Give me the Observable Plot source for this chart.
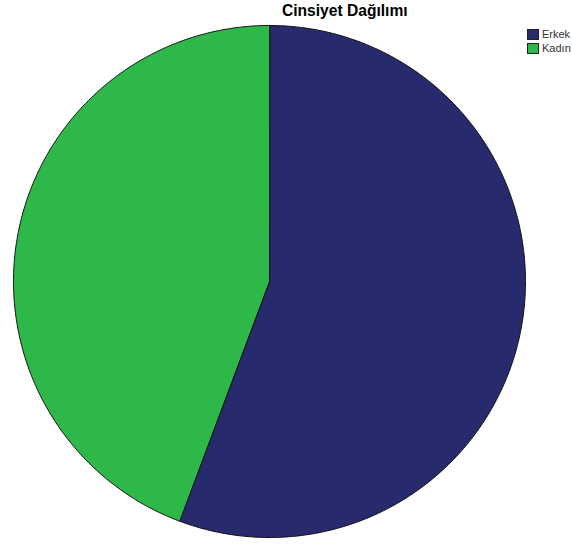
<!DOCTYPE html>
<html>
<head>
<meta charset="utf-8">
<script src="https://cdn.jsdelivr.net/npm/d3@7"></script>
<script src="https://cdn.jsdelivr.net/npm/@observablehq/plot@0.6"></script>
<style>
  body { margin: 0; background: #fff; font-family: "Liberation Sans", Arial, sans-serif; }
  #wrap { position: relative; width: 572px; height: 544px; overflow: hidden; }
  #title { position: absolute; left: 282px; top: 2px; font-size: 15.6px; font-weight: bold; color: #000; white-space: nowrap; }
  #legend { position: absolute; left: 527px; top: 27px; font-size: 11px; color: #333; white-space: nowrap; }
  .item { display: flex; align-items: center; height: 14px; }
  .sw { width: 12px; height: 11px; border: 1px solid #222; box-sizing: border-box; margin-right: 3px; }
</style>
</head>
<body>
<div id="wrap">
  <div id="chart"></div>
  <div id="title"></div>
  <div id="legend"></div>
</div>
<script>
const title = "Cinsiyet Dağılımı";
const categories = ["Erkek", "Kadın"];
const values = [55.7, 44.3];
const colors = ["#282A6E", "#2EB84A"];

const pie = d3.pie().sort(null).startAngle(0).endAngle(2 * Math.PI)(values);
const pts = [];
pie.forEach((s, i) => {
  const n = Math.max(2, Math.ceil((s.endAngle - s.startAngle) / (Math.PI / 360)));
  pts.push({ cat: categories[i], x: 0, y: 0 });
  for (let k = 0; k <= n; k++) {
    const a = s.startAngle + (s.endAngle - s.startAngle) * k / n;
    pts.push({ cat: categories[i], x: Math.sin(a), y: Math.cos(a) });
  }
});

const chart = Plot.plot({
  width: 572,
  height: 544,
  marginLeft: 13,
  marginRight: 47,
  marginTop: 25,
  marginBottom: 7,
  x: { domain: [-1, 1], axis: null },
  y: { domain: [-1, 1], axis: null },
  color: { domain: categories, range: colors },
  marks: [
    Plot.line(pts, { x: "x", y: "y", z: "cat", fill: "cat", stroke: "#111", strokeWidth: 1, curve: "linear-closed" })
  ]
});
document.getElementById("chart").appendChild(chart);

document.getElementById("title").textContent = title;
const lg = document.getElementById("legend");
categories.forEach((c, i) => {
  const it = document.createElement("div");
  it.className = "item";
  const sw = document.createElement("div");
  sw.className = "sw";
  sw.style.background = colors[i];
  const t = document.createElement("span");
  t.textContent = c;
  it.appendChild(sw); it.appendChild(t);
  lg.appendChild(it);
});
</script>
</body>
</html>
